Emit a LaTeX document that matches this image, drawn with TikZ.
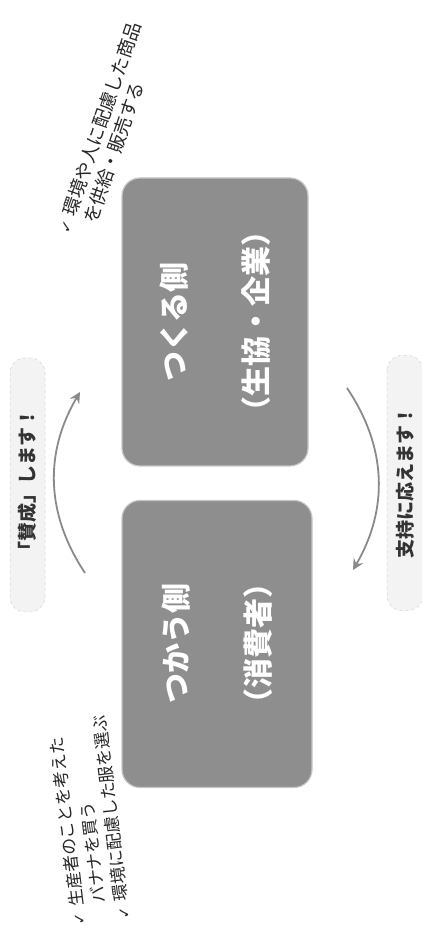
\documentclass[tikz,border=0pt]{standalone}
\usepackage{fontspec}
\newfontfamily\jp{Noto Sans CJK JP}
\newfontfamily\sym{DejaVu Sans}
\usetikzlibrary{arrows.meta}
\definecolor{boxgray}{HTML}{8E8E8E}
\definecolor{arcgray}{HTML}{8A8A8A}
\definecolor{tagfill}{HTML}{F3F3F3}
\newcommand{\chk}{{\sym\fontsize{15}{15}\selectfont ✓}\hspace{6pt}}
\tikzset{
  sidebox/.style={rotate=90, fill=boxgray, draw=gray!45, line width=1.2pt,
    rounded corners=18pt, text=white, align=center,
    font=\jp\bfseries\fontsize{30}{36}\selectfont},
  tagbox/.style={rotate=90, fill=tagfill, draw=gray!35, dashed, line width=.5pt,
    rounded corners=15pt, inner sep=0pt, text=black!80,
    font=\jp\bfseries\fontsize{19}{22}\selectfont},
  note/.style={align=left, text=black!85, inner sep=0pt,
    font=\jp\fontsize{18.5}{22}\selectfont},
  cyclearrow/.style={draw=arcgray, line width=1.8pt,
    -{Stealth[length=11pt,width=11pt,inset=4pt]}},
}
\begin{document}
\begin{tikzpicture}[x=1pt,y=1pt]
\useasboundingbox (0,0) rectangle (421,936);
% the two sides
\node[sidebox, minimum width=288pt, minimum height=186pt] (tsukuru) at (215,614)
  {つくる側\\[46pt]（生協・企業）};
\node[sidebox, minimum width=287pt, minimum height=190pt] (tsukau) at (217,292)
  {つかう側\\[46pt]（消費者）};
% tags
\node[tagbox, minimum width=254pt, minimum height=35pt] (sansei) at (27.5,451) {「賛成」します！};
\node[tagbox, minimum width=255pt, minimum height=36pt] (shiji) at (405,453) {支持に応えます！};
% arcs
\coordinate (lfrom) at (85,363);
\coordinate (lto) at (80,544);
\coordinate (rfrom) at (347,548);
\coordinate (rto) at (353,366);
\draw[cyclearrow] (lfrom) to[bend left=32] (lto);
\draw[cyclearrow] (rfrom) to[bend left=32] (rto);
% notes
\node[note, rotate=71, anchor=north west] (make) at (54.5,706)
  {\chk 環境や人に配慮した商品\\\phantom{\chk}を供給・販売する};
\node[note, rotate=97, anchor=north west, font=\jp\fontsize{17}{22.5}\selectfont] (use) at (71,10)
  {\chk 生産者のことを考えた\\\phantom{\chk}バナナを買う\\\chk 環境に配慮した服を選ぶ};
\end{tikzpicture}
\end{document}
